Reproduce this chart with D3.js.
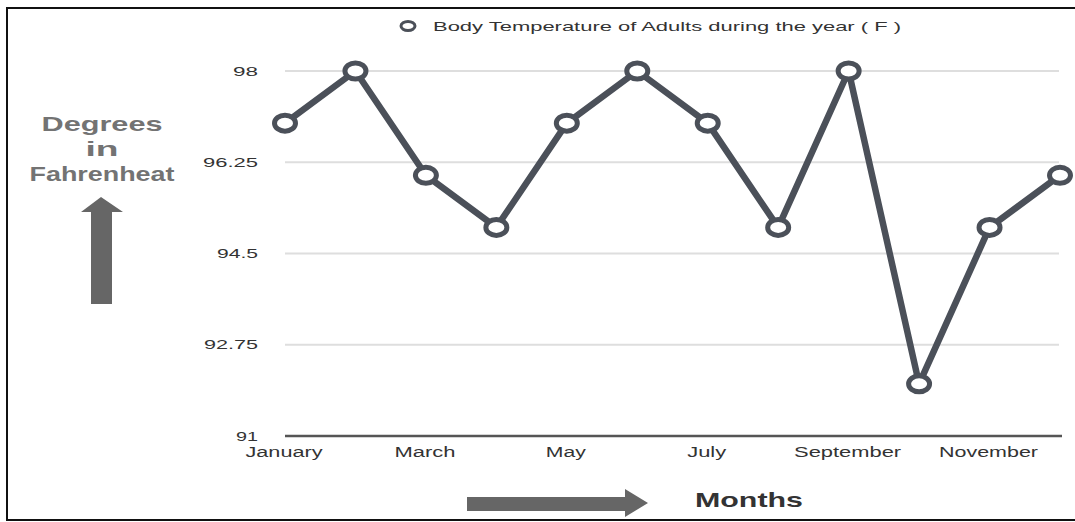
<!DOCTYPE html>
<html>
<head>
<meta charset="utf-8">
<script src="https://cdn.jsdelivr.net/npm/d3@7/dist/d3.min.js"></script>
<style>
  html, body { margin: 0; padding: 0; background: #fff; }
  svg { display: block; font-family: "Liberation Sans", Arial, sans-serif; }
</style>
</head>
<body>
<svg id="chart" width="1075" height="522"></svg>
<script>
const months = ["January","February","March","April","May","June","July","August","September","October","November","December"];
const temps = [97, 98, 96, 95, 97, 98, 97, 95, 98, 92, 95, 96];
const yTicks = [91, 92.75, 94.5, 96.25, 98];
const yTickLabels = ["91", "92.75", "94.5", "96.25", "98"];
const xTickLabels = ["January","March","May","July","September","November"];
const seriesName = "Body Temperature of Adults during the year ( F )";
const yTitle = ["Degrees", "in", "Fahrenheat"];
const xTitle = "Months";

const svg = d3.select("#chart");

// frame
svg.append("rect").attr("x", 7).attr("y", 8).attr("width", 1080).attr("height", 512)
  .attr("fill", "none").attr("stroke", "#111").attr("stroke-width", 2);

const x = d3.scalePoint().domain(months).range([285, 1060]);
const y = d3.scaleLinear().domain([91, 98]).range([436, 71]);

// gridlines
svg.append("g").selectAll("line").data(yTicks.filter(t => t !== 91)).join("line")
  .attr("x1", 285).attr("x2", 1059)
  .attr("y1", d => y(d)).attr("y2", d => y(d))
  .attr("stroke", "#dedede").attr("stroke-width", 2);

// x axis line
svg.append("line").attr("x1", 285).attr("x2", 1062).attr("y1", y(91)).attr("y2", y(91))
  .attr("stroke", "#555").attr("stroke-width", 2.5);

// y tick labels
const yLabelW = {"98": 25, "96.25": 55, "94.5": 41, "92.75": 54, "91": 22};
svg.append("g").selectAll("text").data(yTicks).join("text")
  .attr("x", 258).attr("y", d => y(d)).attr("dy", "0.36em")
  .attr("text-anchor", "end").attr("font-size", 13).attr("fill", "#333")
  .attr("textLength", (d, i) => yLabelW[yTickLabels[i]])
  .attr("lengthAdjust", "spacingAndGlyphs")
  .text((d, i) => yTickLabels[i]);

// x tick labels
const xLabelW = {"January": 77, "March": 61, "May": 40, "July": 39, "September": 107, "November": 99};
svg.append("g").selectAll("text").data(xTickLabels).join("text")
  .attr("x", d => x(d) - 1).attr("y", 457)
  .attr("text-anchor", "middle").attr("font-size", 14).attr("fill", "#333")
  .attr("textLength", d => xLabelW[d]).attr("lengthAdjust", "spacingAndGlyphs")
  .text(d => d);

// line
const line = d3.line().x((d, i) => x(months[i])).y(d => y(d));
svg.append("path").datum(temps).attr("d", line)
  .attr("fill", "none").attr("stroke", "#4b5059").attr("stroke-width", 6.5)
  .attr("stroke-linejoin", "round");

// markers
svg.append("g").selectAll("ellipse").data(temps).join("ellipse")
  .attr("cx", (d, i) => x(months[i])).attr("cy", d => y(d))
  .attr("rx", 10.5).attr("ry", 8)
  .attr("fill", "#fff").attr("stroke", "#4b5059").attr("stroke-width", 5);

// legend
svg.append("ellipse").attr("cx", 408).attr("cy", 26).attr("rx", 7).attr("ry", 4.5)
  .attr("fill", "#fff").attr("stroke", "#4b5059").attr("stroke-width", 3);
svg.append("text").attr("x", 433).attr("y", 31).attr("font-size", 13.5).attr("fill", "#333")
  .attr("textLength", 468).attr("lengthAdjust", "spacingAndGlyphs").text(seriesName);

// y title
const yTitleW = [121, 33, 145];
svg.append("g").selectAll("text").data(yTitle).join("text")
  .attr("x", 102).attr("y", (d, i) => 131 + i * 25)
  .attr("text-anchor", "middle").attr("font-size", 21).attr("font-weight", "bold")
  .attr("fill", "#737373")
  .attr("textLength", (d, i) => yTitleW[i]).attr("lengthAdjust", "spacingAndGlyphs")
  .text(d => d);

// up arrow
svg.append("path")
  .attr("d", "M101,197 L123,212 L112,212 L112,304 L91,304 L91,212 L81,212 Z")
  .attr("fill", "#666");

// right arrow
svg.append("path")
  .attr("d", "M467,497 L625,497 L625,489 L648,503 L625,517 L625,511 L467,511 Z")
  .attr("fill", "#666");

svg.append("text").attr("x", 695).attr("y", 507).attr("font-size", 21).attr("font-weight", "bold")
  .attr("fill", "#333").attr("textLength", 108).attr("lengthAdjust", "spacingAndGlyphs")
  .text(xTitle);
</script>
</body>
</html>
